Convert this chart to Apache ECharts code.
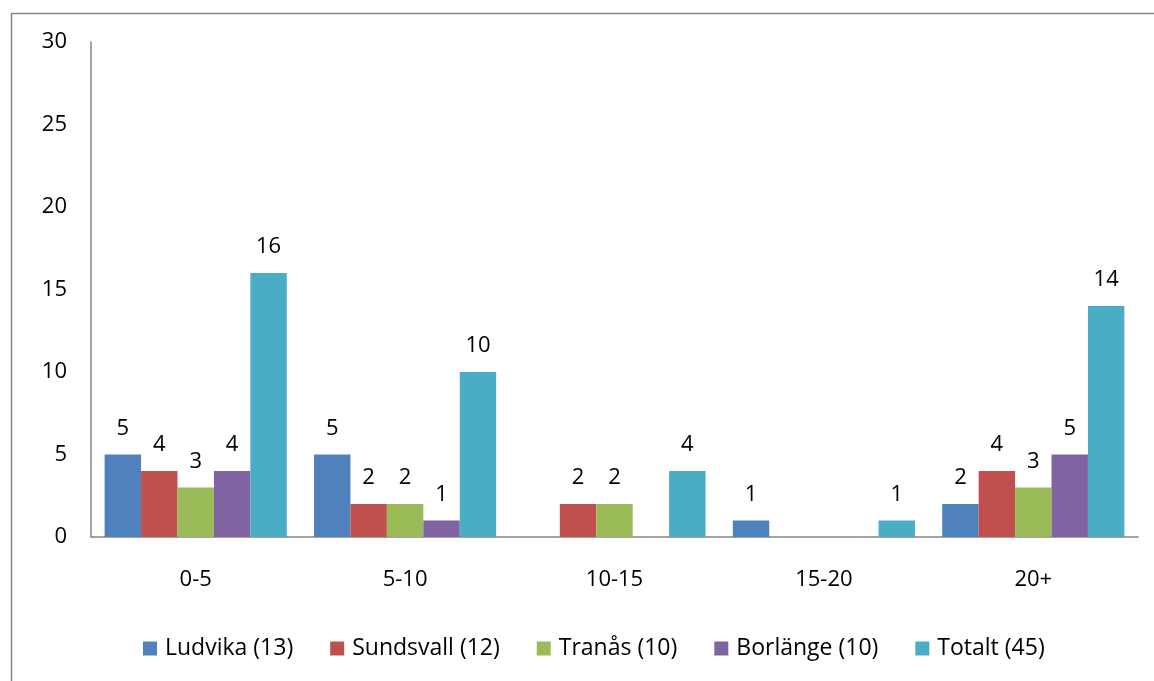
<!DOCTYPE html>
<html><head><meta charset="utf-8">
<script src="https://cdn.jsdelivr.net/npm/echarts@6/dist/echarts.min.js"></script>
<style>html,body{margin:0;padding:0;background:#fff}#c{width:1154px;height:681px}</style>
</head><body><div id="c"></div>
<script>
const categories = ['0-5', '5-10', '10-15', '15-20', '20+'];
const seriesNames = ['Ludvika (13)', 'Sundsvall (12)', 'Tranås (10)', 'Borlänge (10)', 'Totalt (45)'];
const ludvika = [5, 5, 0, 1, 2];
const sundsvall = [4, 2, 2, 0, 4];
const tranas = [3, 2, 2, 0, 3];
const borlange = [4, 1, 0, 0, 5];
const totalt = [16, 10, 4, 1, 14];
const colors = ['#4F81BD', '#C0504D', '#9BBB59', '#8064A2', '#4BACC6'];
const allData = [ludvika, sundsvall, tranas, borlange, totalt];
const FONT = '"Open Sans", "Noto Sans", sans-serif';

const chart = echarts.init(document.getElementById('c'));
chart.setOption({
  animation: false,
  textStyle: { fontFamily: FONT },
  graphic: [{ type: 'rect', shape: { x: 11.5, y: 13.5, width: 1200, height: 800 }, style: { fill: 'none', stroke: '#888', lineWidth: 1.5 }, silent: true }],
  grid: { left: 91, right: 16, top: 42, bottom: 144 },
  legend: {
    top: 632, left: 138, itemWidth: 14, itemHeight: 14, itemGap: 37,
    icon: 'rect',
    textStyle: { fontSize: 23, color: '#000', fontFamily: FONT, padding: [0, 0, 0, 3] },
    data: seriesNames
  },
  xAxis: {
    type: 'category', data: categories,
    axisLine: { lineStyle: { color: '#868686', width: 1.5 } },
    axisTick: { show: false },
    axisLabel: { fontSize: 22, color: '#000', margin: 32, fontFamily: FONT }
  },
  yAxis: {
    type: 'value', min: 0, max: 30, interval: 5,
    axisLine: { show: true, lineStyle: { color: '#868686', width: 1.5 } },
    axisTick: { show: false },
    splitLine: { show: false },
    axisLabel: { fontSize: 22, color: '#000', margin: 24, fontFamily: FONT }
  },
  series: seriesNames.map((n, i) => ({
    name: n, type: 'bar', data: allData[i],
    barGap: '0%', barCategoryGap: '13%',
    itemStyle: { color: colors[i] },
    label: {
      show: true, position: 'top', distance: 15, fontSize: 22, color: '#000', fontFamily: FONT,
      formatter: p => p.value === 0 ? '' : String(p.value)
    }
  }))
});
</script></body></html>
